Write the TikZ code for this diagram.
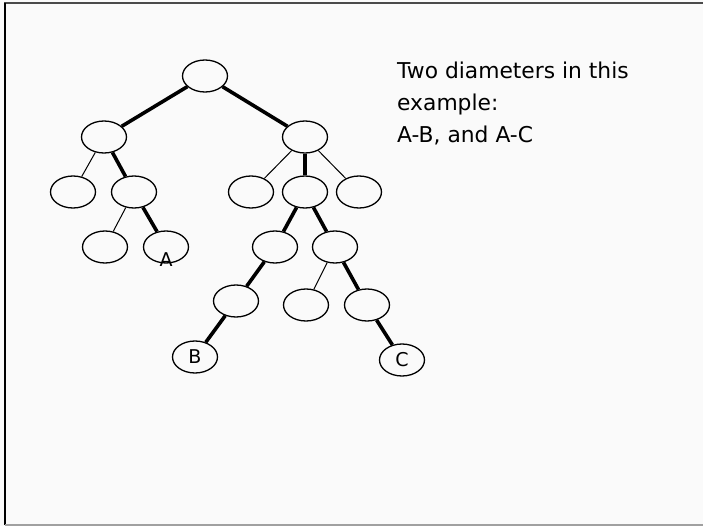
\documentclass[tikz,border=0pt]{standalone}
\usepackage{fontspec}
\setmainfont{DejaVu Sans}
\usetikzlibrary{shapes.geometric}
\definecolor{PageClr}{HTML}{FAFAFA}
\definecolor{FrameClr}{HTML}{4A4A4A}
\definecolor{RuleClr}{HTML}{A0A0A0}

\begin{document}
\begin{tikzpicture}[x=1pt,y=-1pt,
  vtx/.style={draw,ellipse,minimum width=45pt,minimum height=32pt,
    inner sep=0pt,line width=1.3pt,font=\fontsize{19}{19}\selectfont},
  slim/.style={line width=1pt},
  diam/.style={line width=3.6pt}]
\useasboundingbox (0,0) rectangle (703,526);
\fill[PageClr] (0,0) rectangle (703,526);
\draw[FrameClr,line width=2pt] (4,3) -- (703,3);
\draw[black,line width=1.5pt] (5,3) -- (5,525);
\draw[RuleClr,line width=2pt] (5,525) -- (703,525);

% the tree
\node[vtx] (root) at (205,76) {};
\node[vtx] (lt) at (104,137) {};
\node[vtx] (rt) at (305,137) {};
\node[vtx] (lt1) at (73,192) {};
\node[vtx] (lt2) at (134,192) {};
\node[vtx] (rt1) at (251,192) {};
\node[vtx] (rt2) at (305,192) {};
\node[vtx] (rt3) at (359,192) {};
\node[vtx] (lt21) at (105,247) {};
\node[vtx] (nA) at (166,247) {};
\node[vtx] (rt21) at (275,247) {};
\node[vtx] (rt22) at (335,247) {};
\node[vtx] (rt211) at (236,301) {};
\node[vtx] (rt221) at (306,305) {};
\node[vtx] (rt222) at (367,305) {};
\node[vtx] (nB) at (195,357) {B};
\node[vtx] (nC) at (402,360) {C};
\node[font=\fontsize{19}{19}\selectfont,inner sep=0pt] (lblA)
  at ([yshift=-13pt]nA.center) {A};

\draw[diam] (root) -- (lt);
\draw[diam] (root) -- (rt);
\draw[slim] (lt) -- (lt1);
\draw[diam] (lt) -- (lt2);
\draw[slim] (lt2) -- (lt21);
\draw[diam] (lt2) -- (nA);
\draw[slim] (rt) -- (rt1);
\draw[diam] (rt) -- (rt2);
\draw[slim] (rt) -- (rt3);
\draw[diam] (rt2) -- (rt21);
\draw[diam] (rt2) -- (rt22);
\draw[diam] (rt21) -- (rt211);
\draw[diam] (rt211) -- (nB);
\draw[slim] (rt22) -- (rt221);
\draw[diam] (rt22) -- (rt222);
\draw[diam] (rt222) -- (nC);

\node[anchor=north west,align=left,inner sep=0pt,
  font=\fontsize{21.8}{32}\selectfont] (note) at (397,61.5)
  {Two diameters in this\\example:\\A-B, and A-C};
\end{tikzpicture}
\end{document}
